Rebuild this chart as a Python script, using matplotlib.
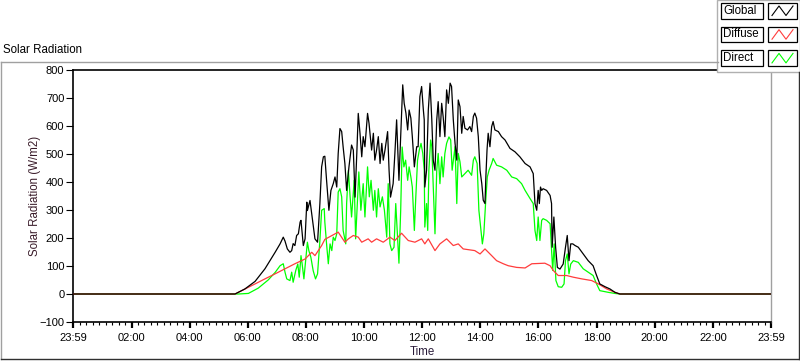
import matplotlib
matplotlib.use("Agg")
import matplotlib.pyplot as plt
from matplotlib.lines import Line2D
from matplotlib.patches import Rectangle
from matplotlib.ticker import MultipleLocator

plt.rcParams['font.family'] = ['Liberation Sans', 'DejaVu Sans']

# hours after midnight, W/m2
global_t = [0.0, 5.56, 5.90, 6.25, 6.59, 6.94, 7.11, 7.22, 7.28, 7.36, 7.45, 7.51, 7.56, 7.62, 7.68,
            7.74, 7.80, 7.83, 7.91, 7.97, 8.03, 8.05, 8.14, 8.22, 8.31, 8.40, 8.48, 8.54, 8.60, 8.65,
            8.71, 8.79, 8.86, 8.94, 9.00, 9.06, 9.11, 9.17, 9.23, 9.28, 9.34, 9.40, 9.48, 9.57, 9.63,
            9.69, 9.75, 9.80, 9.86, 9.92, 9.97, 10.03, 10.12, 10.17, 10.26, 10.32, 10.37, 10.43, 10.49,
            10.55, 10.61, 10.66, 10.72, 10.81, 10.86, 10.91, 11.00, 11.06, 11.12, 11.20, 11.27, 11.33,
            11.38, 11.44, 11.50, 11.55, 11.61, 11.66, 11.73, 11.81, 11.86, 11.92, 11.98, 12.04, 12.07,
            12.09, 12.15, 12.21, 12.27, 12.33, 12.38, 12.44, 12.50, 12.55, 12.61, 12.67, 12.72, 12.78,
            12.84, 12.90, 12.96, 13.01, 13.07, 13.13, 13.19, 13.24, 13.30, 13.36, 13.41, 13.47, 13.56,
            13.64, 13.70, 13.76, 13.81, 13.87, 13.93, 13.99, 14.05, 14.10, 14.16, 14.19, 14.23, 14.27,
            14.33, 14.39, 14.44, 14.50, 14.62, 14.73, 14.85, 15.02, 15.19, 15.36, 15.54, 15.71, 15.82,
            15.88, 15.94, 15.99, 16.03, 16.07, 16.11, 16.16, 16.28, 16.40, 16.45, 16.47, 16.53, 16.59,
            16.65, 16.74, 16.85, 16.93, 16.99, 17.05, 17.11, 17.18, 17.26, 17.37, 17.54, 17.71, 17.88,
            18.00, 18.11, 18.29, 18.46, 18.63, 18.80, 24.0]
global_w = [0, 0, 18, 45, 90, 149, 179, 203, 189, 161, 149, 155, 180, 173, 209,
            215, 257, 263, 173, 197, 328, 298, 334, 269, 197, 185, 323, 454, 490, 492,
            406, 299, 370, 394, 418, 382, 502, 591, 580, 525, 466, 370, 454, 532, 514,
            346, 502, 645, 574, 490, 562, 526, 645, 610, 514, 574, 478, 514, 562,
            466, 538, 478, 514, 580, 442, 346, 394, 502, 622, 406, 586, 747,
            681, 646, 586, 657, 628, 562, 454, 526, 526, 705, 741, 657, 622,
            382, 442, 657, 753, 622, 478, 442, 622, 687, 562, 681, 634, 562,
            729, 681, 753, 741, 622, 538, 478, 693, 669, 574, 634, 592, 586,
            598, 580, 634, 646, 628, 562, 442, 394, 335, 323, 418, 514, 574,
            526, 598, 616, 586, 580, 562, 550, 520, 508, 490, 466, 454, 430,
            323, 299, 370, 323, 382, 370, 376, 370, 352, 323, 167, 275, 167,
            95, 89, 107, 167, 209, 119, 179, 179, 173, 167, 143, 119, 101,
            66, 36, 26, 18, 6, 0, 0]

diffuse_t = [0.0, 5.56, 6.25, 6.59, 6.94, 7.28, 7.62, 7.97, 8.20, 8.31, 8.54, 8.65, 9.11, 9.34,
             9.46, 9.63, 9.80, 9.92, 10.14, 10.26, 10.43, 10.66, 10.89, 11.06, 11.29, 11.52, 11.75,
             11.98, 12.09, 12.21, 12.44, 12.61, 12.84, 13.07, 13.24, 13.41, 13.81, 13.99, 14.16,
             14.39, 14.56, 14.79, 14.96, 15.25, 15.54, 15.77, 16.22, 16.40, 16.51, 16.68, 16.97,
             17.20, 17.49, 17.83, 18.06, 18.35, 18.63, 18.80, 24.0]
diffuse_w = [0, 0, 36, 54, 72, 90, 108, 125, 149, 137, 173, 195, 221, 185,
             197, 209, 203, 185, 197, 185, 197, 185, 203, 191, 217, 191, 185,
             197, 179, 197, 155, 179, 197, 173, 179, 161, 155, 143, 161,
             137, 119, 108, 101, 95, 93, 108, 110, 101, 84, 66, 66,
             60, 54, 48, 36, 18, 6, 0, 0]

direct_t = [0.0, 5.67, 6.02, 6.36, 6.70, 6.94, 7.11, 7.22, 7.28, 7.34, 7.45, 7.51, 7.56, 7.65, 7.72,
            7.77, 7.83, 7.87, 7.93, 8.00, 8.05, 8.10, 8.17, 8.25, 8.33, 8.40, 8.48, 8.54, 8.63,
            8.65, 8.71, 8.77, 8.83, 8.89, 8.94, 9.00, 9.06, 9.11, 9.17, 9.23, 9.28, 9.37, 9.40, 9.46,
            9.52, 9.57, 9.66, 9.71, 9.77, 9.82, 9.89, 9.97, 10.03, 10.12, 10.18, 10.24, 10.32, 10.37,
            10.43, 10.49, 10.55, 10.63, 10.70, 10.78, 10.83, 10.89, 10.95, 11.03, 11.09, 11.16, 11.20,
            11.26, 11.31, 11.37, 11.43, 11.50, 11.55, 11.61, 11.66, 11.73, 11.78, 11.84, 11.90, 11.96,
            12.02, 12.07, 12.09, 12.15, 12.19, 12.23, 12.29, 12.33, 12.38, 12.44, 12.50, 12.55, 12.61,
            12.67, 12.72, 12.78, 12.84, 12.92, 12.98, 13.03, 13.13, 13.19, 13.24, 13.30, 13.36, 13.47,
            13.58, 13.70, 13.76, 13.81, 13.89, 13.95, 14.02, 14.07, 14.12, 14.18, 14.24, 14.30, 14.39,
            14.44, 14.56, 14.73, 14.91, 15.08, 15.25, 15.42, 15.54, 15.71, 15.82, 15.88, 15.94, 15.99,
            16.05, 16.11, 16.16, 16.28, 16.40, 16.45, 16.49, 16.54, 16.60, 16.68, 16.80, 16.88, 16.93,
            16.99, 17.05, 17.11, 17.20, 17.37, 17.54, 17.71, 17.88, 18.00, 18.11, 18.40, 18.63, 18.80,
            24.0]
direct_w = [0, 0, 2, 21, 50, 77, 101, 108, 78, 54, 48, 78, 42, 84, 107,
            60, 137, 107, 54, 131, 185, 155, 131, 83, 54, 72, 191, 299, 305,
            257, 179, 108, 179, 155, 203, 191, 215, 364, 376, 347, 227, 179, 323, 442,
            347, 275, 406, 197, 323, 436, 299, 394, 275, 454, 347, 406, 299, 370,
            275, 376, 311, 347, 299, 203, 394, 179, 155, 167, 323, 191, 110,
            299, 525, 454, 478, 406, 454, 418, 382, 227, 347, 478, 514, 538,
            502, 442, 239, 323, 227, 442, 550, 526, 382, 215, 442, 502, 394,
            490, 418, 502, 538, 561, 550, 442, 526, 323, 502, 472, 418, 430,
            442, 424, 478, 490, 466, 299, 227, 179, 215, 323, 418, 442, 466,
            484, 460, 454, 442, 418, 412, 394, 370, 341, 323, 227, 191, 275,
            191, 263, 269, 263, 251, 155, 84, 179, 48, 26, 24, 36, 119,
            143, 72, 107, 119, 113, 90, 78, 66, 36, 12, 6, 2, 0,
            0]

series_names = ["Global", "Diffuse", "Direct"]
series_colors = ["#000000", "#ff3c3c", "#00ff00"]

tick_hours = list(range(0, 25, 2))
tick_labels = ["23:59", "02:00", "04:00", "06:00", "08:00", "10:00", "12:00",
               "14:00", "16:00", "18:00", "20:00", "22:00", "23:59"]

W, H = 800, 361
fig = plt.figure(figsize=(8, 3.61), dpi=100)


def fx(x):
    return x / W


def fy(y):
    return 1 - y / H


# outer frame of the graph
fig.add_artist(Line2D([fx(0.5), fx(0.5)], [fy(61.5), fy(358.5)], color="#a0a0a0", lw=1))
fig.add_artist(Line2D([fx(0.5), fx(718)], [fy(61.5), fy(61.5)], color="#a0a0a0", lw=1))
fig.add_artist(Line2D([fx(0.5), fx(799)], [fy(358.5), fy(358.5)], color="#303030", lw=1))
fig.add_artist(Line2D([fx(798.5), fx(798.5)], [fy(72), fy(358.5)], color="#303030", lw=1))
fig.text(fx(3), fy(50), "Solar Radiation", fontsize=8.3, va="center", ha="left")

ax = fig.add_axes([fx(73.4), fy(322), fx(771) - fx(73.4), fy(70) - fy(322)])
ax.plot(direct_t, direct_w, color=series_colors[2], lw=0.9, zorder=2)
ax.plot(diffuse_t, diffuse_w, color=series_colors[1], lw=0.9, zorder=3)
ax.plot(global_t, global_w, color=series_colors[0], lw=0.9, zorder=4)

ax.set_xlim(0, 24)
ax.set_ylim(-100, 800)
ax.set_xticks(tick_hours)
ax.set_xticklabels(tick_labels)
ax.xaxis.set_minor_locator(MultipleLocator(2 / 9))
ax.set_yticks(range(-100, 801, 100))
ax.tick_params(axis="both", labelsize=8, colors="black")
ax.tick_params(axis="x", which="major", length=4, width=1.6, pad=4)
ax.tick_params(axis="x", which="minor", length=2.5, width=0.8)
ax.tick_params(axis="y", which="major", length=5, width=0.8, pad=1.5)

for side in ["left", "top", "bottom"]:
    ax.spines[side].set_color("black")
    ax.spines[side].set_linewidth(1.2)
ax.spines["right"].set_color("#a0a0a0")
ax.spines["right"].set_linewidth(1)

ax.set_ylabel("Solar Radiation (W/m2)", fontsize=8.3, color="#3a1c2a", labelpad=-1)
ax.set_xlabel("Time", fontsize=8.3, color="#2a1c3a", labelpad=2)

# legend panel
fig.add_artist(Rectangle((fx(717), fy(72)), fx(83), fy(0) - fy(72), facecolor="white",
                         edgecolor="#b0b0b0", lw=1))
for i, name in enumerate(series_names):
    top = 3 + i * 23.7
    bot = top + 15.5
    fig.add_artist(Rectangle((fx(721), fy(bot)), fx(42), fy(top) - fy(bot), facecolor="white",
                             edgecolor="black", lw=0.9))
    fig.add_artist(Rectangle((fx(768), fy(bot)), fx(29), fy(top) - fy(bot), facecolor="white",
                             edgecolor="black", lw=0.9))
    fig.text(fx(723), fy((top + bot) / 2), name, fontsize=8.3, va="center", ha="left")
    zx = [772, 779, 786, 793]
    zy = [bot - 3, top + 3, bot - 3, top + 3]
    fig.add_artist(Line2D([fx(v) for v in zx], [fy(v) for v in zy], color=series_colors[i], lw=0.8))

fig.savefig("out.png", dpi=100)
